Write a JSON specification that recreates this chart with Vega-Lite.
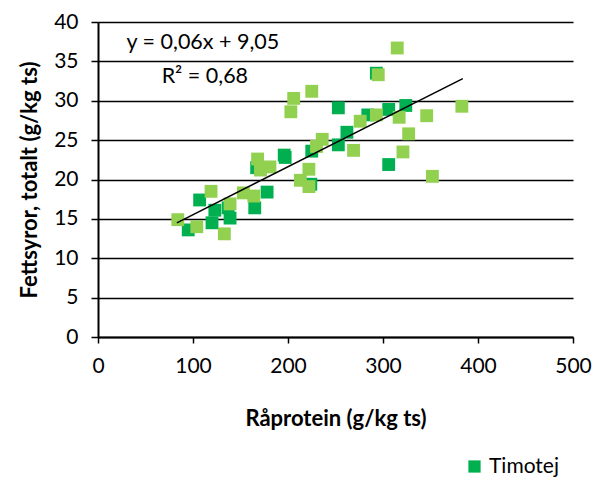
{
  "$schema": "https://vega.github.io/schema/vega-lite/v6.json",
  "width": 475,
  "height": 315,
  "autosize": {"type": "none"},
  "padding": {"left": 98, "top": 22, "right": 22, "bottom": 142},
  "background": "white",
  "config": {
    "view": {"stroke": null},
    "font": "Lato",
    "axis": {"labelFont": "Lato", "titleFont": "Lato", "labelColor": "black", "titleColor": "black", "domainColor": "black", "tickColor": "black"}
  },
  "datasets": {
    "pts": [
      {"protein": 95, "fett": 13.6, "serie": "Timotej"},
      {"protein": 107, "fett": 17.4, "serie": "Timotej"},
      {"protein": 123, "fett": 16.1, "serie": "Timotej"},
      {"protein": 120, "fett": 14.5, "serie": "Timotej"},
      {"protein": 139, "fett": 15.1, "serie": "Timotej"},
      {"protein": 137, "fett": 16.4, "serie": "Timotej"},
      {"protein": 165, "fett": 16.4, "serie": "Timotej"},
      {"protein": 167, "fett": 21.5, "serie": "Timotej"},
      {"protein": 178, "fett": 18.4, "serie": "Timotej"},
      {"protein": 197, "fett": 22.8, "serie": "Timotej"},
      {"protein": 224, "fett": 19.4, "serie": "Timotej"},
      {"protein": 225, "fett": 23.6, "serie": "Timotej"},
      {"protein": 196, "fett": 23.1, "serie": "Timotej"},
      {"protein": 253, "fett": 29.1, "serie": "Timotej"},
      {"protein": 253, "fett": 24.4, "serie": "Timotej"},
      {"protein": 262, "fett": 26.0, "serie": "Timotej"},
      {"protein": 284, "fett": 28.2, "serie": "Timotej"},
      {"protein": 293, "fett": 33.5, "serie": "Timotej"},
      {"protein": 306, "fett": 28.9, "serie": "Timotej"},
      {"protein": 306, "fett": 21.9, "serie": "Timotej"},
      {"protein": 324, "fett": 29.4, "serie": "Timotej"},
      {"protein": 84, "fett": 14.9, "serie": "Övriga"},
      {"protein": 104, "fett": 14.0, "serie": "Övriga"},
      {"protein": 119, "fett": 18.5, "serie": "Övriga"},
      {"protein": 133, "fett": 13.1, "serie": "Övriga"},
      {"protein": 139, "fett": 16.9, "serie": "Övriga"},
      {"protein": 153, "fett": 18.3, "serie": "Övriga"},
      {"protein": 164, "fett": 17.9, "serie": "Övriga"},
      {"protein": 168, "fett": 22.6, "serie": "Övriga"},
      {"protein": 171, "fett": 21.2, "serie": "Övriga"},
      {"protein": 181, "fett": 21.6, "serie": "Övriga"},
      {"protein": 203, "fett": 28.6, "serie": "Övriga"},
      {"protein": 206, "fett": 30.3, "serie": "Övriga"},
      {"protein": 213, "fett": 19.9, "serie": "Övriga"},
      {"protein": 222, "fett": 19.1, "serie": "Övriga"},
      {"protein": 225, "fett": 31.2, "serie": "Övriga"},
      {"protein": 222, "fett": 21.3, "serie": "Övriga"},
      {"protein": 230, "fett": 24.2, "serie": "Övriga"},
      {"protein": 236, "fett": 25.1, "serie": "Övriga"},
      {"protein": 269, "fett": 23.7, "serie": "Övriga"},
      {"protein": 276, "fett": 27.4, "serie": "Övriga"},
      {"protein": 293, "fett": 28.2, "serie": "Övriga"},
      {"protein": 295, "fett": 33.3, "serie": "Övriga"},
      {"protein": 315, "fett": 36.7, "serie": "Övriga"},
      {"protein": 317, "fett": 27.9, "serie": "Övriga"},
      {"protein": 321, "fett": 23.5, "serie": "Övriga"},
      {"protein": 327, "fett": 25.8, "serie": "Övriga"},
      {"protein": 346, "fett": 28.1, "serie": "Övriga"},
      {"protein": 352, "fett": 20.4, "serie": "Övriga"},
      {"protein": 383, "fett": 29.3, "serie": "Övriga"}
    ],
    "trend": [
      {"protein": 83, "fett": 14.5},
      {"protein": 384, "fett": 32.8}
    ],
    "labels": [
      {"protein": 30, "fett": 37.3, "txt": "y = 0,06x + 9,05"},
      {"protein": 67, "fett": 33.0, "txt": "R² = 0,68"}
    ]
  },
  "encoding": {
    "x": {"field": "protein", "type": "quantitative", "scale": {"domain": [0, 500], "nice": false},
      "axis": {"title": "Råprotein (g/kg ts)", "values": [0, 100, 200, 300, 400, 500], "grid": false, "tickSize": 6, "labelPadding": 12, "labelFontSize": 21, "titleFontSize": 22, "titleFontWeight": "bold", "titlePadding": 32, "domainWidth": 2, "tickWidth": 1.5, "labelFlush": false, "labelOverlap": false}},
    "y": {"field": "fett", "type": "quantitative", "scale": {"domain": [0, 40], "nice": false},
      "axis": {"title": "Fettsyror, totalt (g/kg ts)", "values": [0, 5, 10, 15, 20, 25, 30, 35, 40], "grid": true, "gridColor": "black", "gridWidth": 1.6, "gridOpacity": 1, "tickSize": 7, "labelPadding": 13, "labelFontSize": 21, "titleFontSize": 22, "titleFontWeight": "bold", "titlePadding": 12, "domainWidth": 2, "tickWidth": 1.5, "labelFlush": false, "labelOverlap": false}}
  },
  "layer": [
    {
      "data": {"name": "pts"},
      "mark": {"type": "square", "size": 165, "opacity": 1},
      "encoding": {
        "color": {"field": "serie", "type": "nominal",
          "scale": {"domain": ["Timotej", "Övriga"], "range": ["#00B050", "#92D050"]},
          "legend": {"values": ["Timotej"], "title": null, "orient": "none", "legendX": 366, "legendY": 434, "symbolType": "square", "symbolSize": 150, "symbolOpacity": 1, "labelFontSize": 21, "labelColor": "black", "labelFont": "Lato"}},
        "order": {"field": "serie", "sort": "ascending"}
      }
    },
    {
      "data": {"name": "trend"},
      "mark": {"type": "line", "color": "black", "strokeWidth": 1.5},
      "encoding": {}
    },
    {
      "data": {"name": "labels"},
      "mark": {"type": "text", "align": "left", "baseline": "middle", "fontSize": 21.5, "color": "black", "font": "Lato"},
      "encoding": {
        "text": {"field": "txt"}
      }
    }
  ]
}
